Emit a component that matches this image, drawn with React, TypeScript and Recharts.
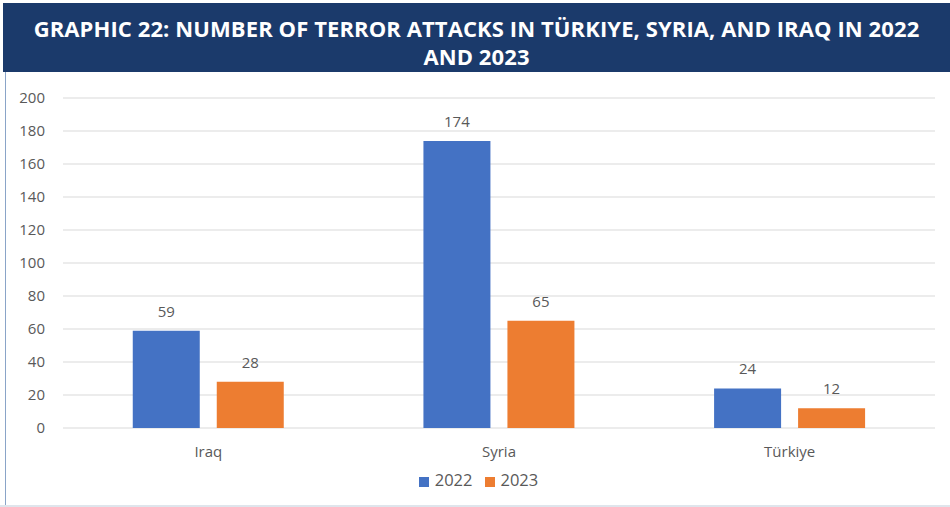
import { Bar, BarChart, CartesianGrid, LabelList, Legend, XAxis, YAxis } from "recharts";

if (typeof document !== "undefined") {
  document.body.style.margin = "0";
}

const countries = ["Iraq", "Syria", "Türkiye"];
const attacks2022 = [59, 174, 24];
const attacks2023 = [28, 65, 12];
const yTicks = [0, 20, 40, 60, 80, 100, 120, 140, 160, 180, 200];

const data = countries.map((country, i) => ({
  country,
  y2022: attacks2022[i],
  y2023: attacks2023[i]
}));

const axisFont = { fill: "#595959", fontSize: 15, fontFamily: "'Open Sans', sans-serif" };

export default function App() {
  return (
    <div style={{ position: "relative", width: 950, height: 507, background: "#fff", overflow: "hidden" }}>
      <div
        style={{
          position: "absolute",
          left: 3,
          top: 3,
          width: 947,
          height: 69,
          background: "#1b3a6b",
          color: "#fff",
          fontFamily: "'Open Sans', sans-serif",
          fontWeight: 700,
          fontSize: 22,
          letterSpacing: 0.1,
          lineHeight: "28px",
          textAlign: "center",
          paddingTop: 11,
          boxSizing: "border-box"
        }}
      >
        GRAPHIC 22: NUMBER OF TERROR ATTACKS IN TÜRKIYE, SYRIA, AND IRAQ IN 2022
        <br />
        AND 2023
      </div>
      <div style={{ position: "absolute", left: 5, top: 72, width: 1, height: 433, background: "#8aa4c8" }} />
      <div style={{ position: "absolute", left: 0, top: 505, width: 950, height: 2, background: "#dfe5ec" }} />
      <div style={{ position: "absolute", left: 0, top: 72 }}>
        <BarChart
          width={950}
          height={435}
          data={data}
          margin={{ top: 26, right: 15, left: 0, bottom: 0 }}
          barCategoryGap="24%"
          barGap={17}
        >
          <CartesianGrid stroke="#d9d9d9" vertical={false} />
          <XAxis
            dataKey="country"
            axisLine={false}
            tickLine={false}
            tickSize={0}
            tickMargin={18}
            height={40}
            tick={axisFont}
          />
          <YAxis
            domain={[0, 200]}
            ticks={yTicks}
            axisLine={false}
            tickLine={false}
            tickSize={0}
            tickMargin={18}
            width={63}
            tick={axisFont}
          />
          <Legend
            verticalAlign="bottom"
            iconType="square"
            iconSize={10}
            height={39}
            wrapperStyle={{
              fontFamily: "'Open Sans', sans-serif",
              fontSize: 16.5,
              color: "#595959",
              paddingLeft: 34,
              boxSizing: "border-box"
            }}
            formatter={(value) => <span style={{ color: "#595959", marginRight: 2, marginLeft: 2 }}>{value}</span>}
          />
          <Bar dataKey="y2022" name="2022" fill="#4472c4" isAnimationActive={false}>
            <LabelList dataKey="y2022" position="top" offset={14} style={axisFont} />
          </Bar>
          <Bar dataKey="y2023" name="2023" fill="#ed7d31" isAnimationActive={false}>
            <LabelList dataKey="y2023" position="top" offset={14} style={axisFont} />
          </Bar>
        </BarChart>
      </div>
    </div>
  );
}
